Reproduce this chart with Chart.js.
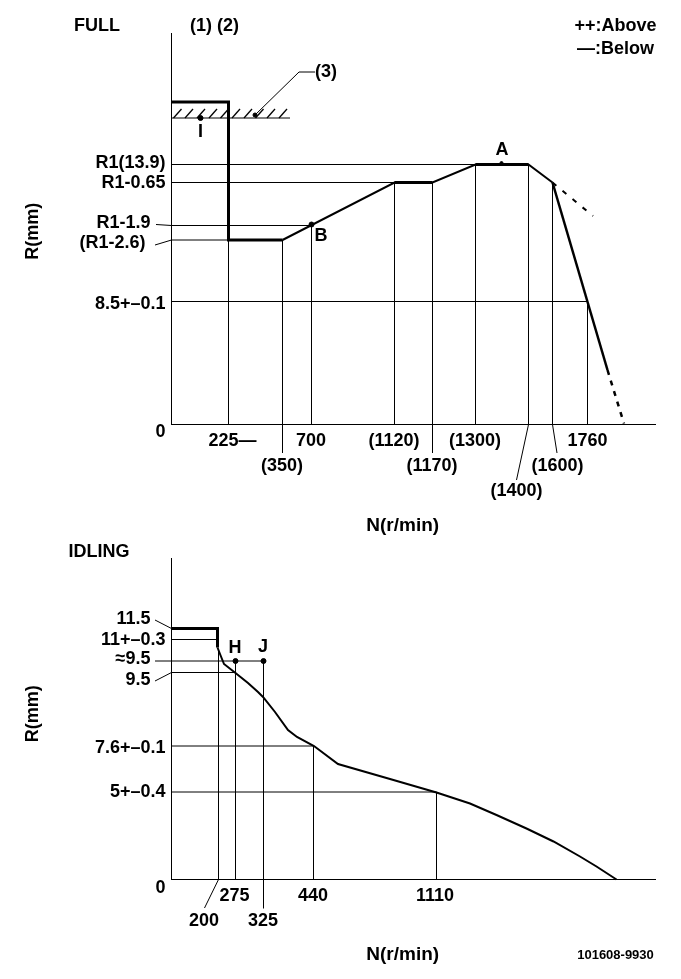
<!DOCTYPE html>
<html>
<head>
<meta charset="utf-8">
<style>
  html, body { margin: 0; padding: 0; background: #fff; }
  #wrap { position: relative; width: 681px; height: 979px; overflow: hidden; }
  canvas { position: absolute; left: 0; }
  #fullChart { top: 0; }
  #idleChart { top: 540px; }
</style>
</head>
<body>
<div id="wrap">
  <canvas id="fullChart" width="681" height="540"></canvas>
  <canvas id="idleChart" width="681" height="439"></canvas>
</div>
<script src="https://cdn.jsdelivr.net/npm/chart.js@4"></script>
<script>
// ==========================================
// 1. DATA
// The drawing is not to scale, so both axes run in drawn distance
// from the origin and the printed values are only tick labels.
// ==========================================

// --- FULL ---
const fullXTickLabels = ['225—', '(350)', '700', '(1120)', '(1170)', '(1300)', '(1400)', '(1600)', '1760'];
const fullXTickPos = [61, 110.5, 139.5, 222.5, 260.5, 303.5, 345, 386, 416];
const fullXTickRow = [0, 1, 0, 0, 1, 0, 2, 1, 0];

const fullYTickLabels = ['R1(13.9)', 'R1-0.65', 'R1-1.9', '(R1-2.6)', '8.5+–0.1', '0'];
const fullYTickPos = [261.5, 241.5, 201.5, 181.5, 120.5, -7.5];
const fullYTickIndent = [0, 0, 3, 4, 0, 0];

const fullStopX = [0, 57, 57, 111];
const fullStopY = [322.5, 322.5, 184.5, 184.5];
const fullRiseX = [111, 223, 261, 304, 357, 381];
const fullRiseY = [184.5, 242, 242, 260, 260, 242];
const fullFlat1X = [223, 261];
const fullFlat1Y = [242, 242];
const fullFlat2X = [304, 357];
const fullFlat2Y = [260, 260];
const fullDropX = [381, 436];
const fullDropY = [242, 54.5];
const fullDropDashX = [436, 452.5];
const fullDropDashY = [54.5, 1];
const fullUpperDashX = [381, 421.5];
const fullUpperDashY = [242, 208.5];

const fullGuideX = [57, 111, 140, 223, 261, 304, 357, 381, 416];
const fullGuideTop = [184.5, 184.5, 199, 242, 242, 260, 260, 242, 123];
const fullGuideFoot = [0, -28.5, 0, 0, -28.5, 0, 0, 0, 0];
const fullLevelY = [260, 242, 199, 184.5, 123];
const fullLevelEnd = [304, 223, 140, 57, 416];

const fullHatchStart = [2, 13.5, 25.5, 37.5, 49, 60.5, 72.5, 84, 95.5, 107.5];
const fullHatchBase = 306.5;

const fullPointX = [29, 140];
const fullPointY = [306.5, 200];
const fullPeakX = [330];
const fullPeakY = [261.5];
const fullPointerX = [83.5];
const fullPointerY = [309.5];

const fullNotes = ['FULL', '(1) (2)', '(3)', '++:Above', '—:Below', 'I', 'B', 'A'];
const fullNoteX = [-74.5, 43, 154.5, 444, 444, 29, 149.5, 330.5];
const fullNoteY = [398.5, 398.5, 352.5, 398.5, 375.5, 292.5, 188.5, 274.5];

// --- IDLING ---
const idleXTickLabels = ['200', '275', '325', '440', '1110'];
const idleXTickPos = [32.5, 63, 91.5, 141.5, 263.5];
const idleXTickRow = [1, 0, 1, 0, 0];

const idleYTickLabels = ['11.5', '11+–0.3', '≈9.5', '9.5', '7.6+–0.1', '5+–0.4', '0'];
const idleYTickPos = [260.5, 239.5, 220.5, 199.5, 131.5, 87.5, -8.5];
const idleYTickIndent = [3, 0, 3, 3, 0, 0, 0];

const idleStopX = [0, 46, 46];
const idleStopY = [251, 251, 232];
const idleCurveX = [46, 48.5, 52.5, 64, 76.5, 86.5, 91.5, 103.5, 116.5, 125.5, 142.5, 166.5, 218.5, 265, 298.5, 325, 355, 382, 408.5, 425, 445];
const idleCurveY = [232, 225.5, 215.5, 206.5, 196.5, 187.5, 182.5, 167.5, 149.5, 142.5, 133.5, 115.5, 100.5, 87, 76, 64.5, 51, 38, 23, 13, 0];

const idleGuideX = [47, 64, 92, 142, 265];
const idleGuideTop = [230, 218.5, 218.5, 133.5, 87];
const idleGuideFoot = [0, 0, -29, 0, 0];
const idleLevelY = [240, 218.5, 207, 133.5, 87.5];
const idleLevelStart = [0, -16.5, 0, 0, 0];
const idleLevelEnd = [46, 92, 64, 142, 265];

const idlePointX = [64, 92];
const idlePointY = [218.5, 218.5];

const idleNotes = ['IDLING', 'H', 'J'];
const idleNoteX = [-72.5, 63.5, 91.5];
const idleNoteY = [327.5, 231.5, 232.5];
const drawingNumber = '101608-9930';

// ==========================================
// 2. HELPERS
// ==========================================
const FONT = '"Liberation Sans", Arial, sans-serif';
const NBSP = '\u00a0';

const zip = (xs, ys) => xs.map((x, i) => ({ x, y: ys[i] }));

function line(xs, ys, width = 1, dash = []) {
    return {
        data: zip(xs, ys),
        borderColor: '#000',
        backgroundColor: '#000',
        borderWidth: width,
        borderDash: dash,
        borderJoinStyle: 'miter',
        pointRadius: 0,
        tension: 0,
        clip: false
    };
}

function dots(xs, ys, radius = 2.5) {
    return { ...line(xs, ys), showLine: false, pointRadius: radius };
}

// Draws the free-standing notes at scale positions
const notesPlugin = {
    id: 'notes',
    afterDraw(chart, args, opts) {
        const { ctx, scales } = chart;
        ctx.save();
        ctx.fillStyle = '#000';
        ctx.textAlign = 'center';
        ctx.textBaseline = 'middle';
        opts.texts.forEach((text, i) => {
            ctx.font = (opts.small && opts.small.includes(text)) ? `bold 13px ${FONT}` : `bold 18px ${FONT}`;
            ctx.fillText(text, scales.x.getPixelForValue(opts.xs[i]), scales.y.getPixelForValue(opts.ys[i]));
        });
        ctx.restore();
    }
};

function buildChart(id, cfg) {
    return new Chart(document.getElementById(id), {
        type: 'line',
        data: { datasets: cfg.datasets },
        plugins: [notesPlugin],
        options: {
            responsive: false,
            animation: false,
            devicePixelRatio: 1,
            events: [],
            layout: { padding: { top: cfg.padTop, right: 26, left: 0, bottom: 0 } },
            plugins: {
                legend: { display: false },
                tooltip: { enabled: false },
                notes: cfg.notes
            },
            scales: {
                x: {
                    type: 'linear',
                    min: 0,
                    max: 483.5,
                    grid: { display: false, drawTicks: false },
                    border: { color: '#000', width: 1 },
                    afterFit: s => { s.height = cfg.xHeight; },
                    afterBuildTicks: s => { s.ticks = cfg.xPos.map(value => ({ value })); },
                    ticks: {
                        autoSkip: false,
                        maxRotation: 0,
                        minRotation: 0,
                        padding: 4,
                        color: '#000',
                        font: { family: FONT, size: 18, weight: 'bold', lineHeight: 1.39 },
                        callback: (v, i) => [...Array(cfg.xRow[i]).fill(''), cfg.xLabels[i]]
                    },
                    title: {
                        display: true,
                        text: 'N(r/min)' + NBSP.repeat(4),
                        color: '#000',
                        font: { family: FONT, size: 19, weight: 'bold', lineHeight: 1.2 },
                        padding: { top: 0, bottom: cfg.xTitlePad }
                    }
                },
                y: {
                    type: 'linear',
                    min: 0,
                    max: cfg.yMax,
                    grid: { display: false, drawTicks: false },
                    border: { color: '#000', width: 1 },
                    afterFit: s => { s.width = 171.5; },
                    afterBuildTicks: s => { s.ticks = cfg.yPos.map(value => ({ value })); },
                    ticks: {
                        autoSkip: false,
                        padding: 6,
                        color: '#000',
                        font: { family: FONT, size: 18, weight: 'bold' },
                        callback: (v, i) => cfg.yLabels[i] + NBSP.repeat(cfg.yIndent[i])
                    },
                    title: {
                        display: true,
                        text: cfg.yTitle,
                        color: '#000',
                        font: { family: FONT, size: 18, weight: 'bold', lineHeight: 1.2 },
                        padding: { top: 22, bottom: 0 }
                    }
                }
            }
        }
    });
}

// ==========================================
// 3. FULL CHART
// ==========================================
const fullSets = [
    line(fullStopX, fullStopY, 3),
    line(fullRiseX, fullRiseY, 2),
    line(fullFlat1X, fullFlat1Y, 3),
    line(fullFlat2X, fullFlat2Y, 3),
    line(fullDropX, fullDropY, 2.5),
    line(fullDropDashX, fullDropDashY, 2.5, [5, 6]),
    line(fullUpperDashX, fullUpperDashY, 2, [5, 8]),
    line([-15.5, 0], [200, 199]),
    line([-16.5, 0], [179.5, 184.5]),
    line([357, 345], [0, -55.5]),
    line([381, 385.5], [0, -28.5]),
    line([0.5, 118.5], [fullHatchBase, fullHatchBase]),
    line([83.5, 127.5, 143.5], [309.5, 352.5, 352.5]),
    dots(fullPointX, fullPointY),
    dots(fullPeakX, fullPeakY, 1.5),
    dots(fullPointerX, fullPointerY, 2)
];
fullGuideX.forEach((x, i) => fullSets.push(line([x, x], [fullGuideFoot[i], fullGuideTop[i]])));
fullLevelY.forEach((y, i) => fullSets.push(line([0, fullLevelEnd[i]], [y, y])));
fullHatchStart.forEach(x => fullSets.push(line([x, x + 8], [fullHatchBase, fullHatchBase + 9], 1.3)));

buildChart('fullChart', {
    datasets: fullSets,
    padTop: 33,
    xHeight: 115.5,
    xTitlePad: 2.5,
    yMax: 391.5,
    yTitle: 'R(mm)' + NBSP,
    xPos: fullXTickPos,
    xRow: fullXTickRow,
    xLabels: fullXTickLabels,
    yPos: fullYTickPos,
    yIndent: fullYTickIndent,
    yLabels: fullYTickLabels,
    notes: { texts: fullNotes, xs: fullNoteX, ys: fullNoteY }
});

// ==========================================
// 4. IDLING CHART
// ==========================================
const idleSets = [
    line(idleStopX, idleStopY, 3),
    line(idleCurveX, idleCurveY, 2),
    line([-16.5, 0], [259.5, 251]),
    line([-16.5, 0], [198.5, 207]),
    line([47, 33], [0, -28.5]),
    dots(idlePointX, idlePointY)
];
idleGuideX.forEach((x, i) => idleSets.push(line([x, x], [idleGuideFoot[i], idleGuideTop[i]])));
idleLevelY.forEach((y, i) => idleSets.push(line([idleLevelStart[i], idleLevelEnd[i]], [y, y])));

buildChart('idleChart', {
    datasets: idleSets,
    padTop: 18,
    xHeight: 99.5,
    xTitlePad: 12.5,
    yMax: 321.5,
    yTitle: NBSP.repeat(2) + 'R(mm)',
    xPos: idleXTickPos,
    xRow: idleXTickRow,
    xLabels: idleXTickLabels,
    yPos: idleYTickPos,
    yIndent: idleYTickIndent,
    yLabels: idleYTickLabels,
    notes: {
        texts: [...idleNotes, drawingNumber],
        xs: [...idleNoteX, 444],
        ys: [...idleNoteY, -75.5],
        small: [drawingNumber]
    }
});
</script>
</body>
</html>
